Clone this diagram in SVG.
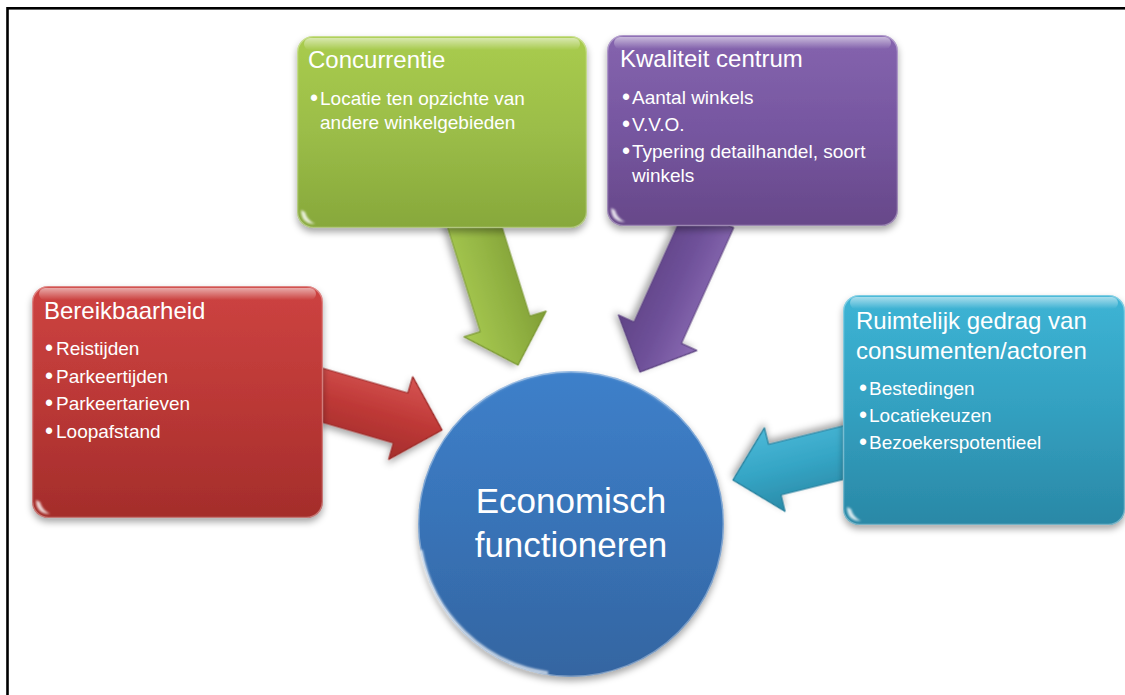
<svg xmlns="http://www.w3.org/2000/svg" width="1125" height="695" viewBox="0 0 1125 695">
  <style>
    .title { font-family: "Liberation Sans", Arial, sans-serif; font-size: 24px; fill: #ffffff; }
    .item { font-family: "Liberation Sans", Arial, sans-serif; font-size: 19px; fill: #ffffff; }
    .dot { font-family: "Liberation Sans", Arial, sans-serif; font-size: 23px; fill: #ffffff; }
    .core { font-family: "Liberation Sans", Arial, sans-serif; font-size: 35px; fill: #ffffff; text-anchor: middle; }
    .gloss { fill: url(#glossGrad); }
    .corner { fill: #ffffff; opacity: 0.8; filter: url(#soft); }
    .rim { fill: none; stroke: #ffffff; stroke-opacity: 0.35; stroke-width: 1.5; }
    .arrow { filter: url(#shadow); stroke-linejoin: round; stroke-width: 1.2; }
  </style>
  <defs>
    <filter id="shadow" x="-20%" y="-20%" width="140%" height="150%">
      <feDropShadow dx="0" dy="4" stdDeviation="3.5" flood-color="#000000" flood-opacity="0.35"/>
    </filter>
    <filter id="soft" x="-30%" y="-30%" width="160%" height="160%">
      <feGaussianBlur stdDeviation="1"/>
    </filter>
    <linearGradient id="glossGrad" x1="0" y1="0" x2="0" y2="1">
      <stop offset="0" stop-color="#ffffff" stop-opacity="0.55"/>
      <stop offset="1" stop-color="#ffffff" stop-opacity="0"/>
    </linearGradient>
    <linearGradient id="greenGrad" x1="0" y1="0" x2="0" y2="1">
      <stop offset="0" stop-color="#a9cc4e"/>
      <stop offset="0.5" stop-color="#9bbd48"/>
      <stop offset="1" stop-color="#87a83b"/>
    </linearGradient>
    <linearGradient id="purpleGrad" x1="0" y1="0" x2="0" y2="1">
      <stop offset="0" stop-color="#8564ae"/>
      <stop offset="0.5" stop-color="#7656a0"/>
      <stop offset="1" stop-color="#674889"/>
    </linearGradient>
    <linearGradient id="redGrad" x1="0" y1="0" x2="0" y2="1">
      <stop offset="0" stop-color="#cd4341"/>
      <stop offset="0.5" stop-color="#bb3836"/>
      <stop offset="1" stop-color="#a42d2b"/>
    </linearGradient>
    <linearGradient id="cyanGrad" x1="0" y1="0" x2="0" y2="1">
      <stop offset="0" stop-color="#3db4d5"/>
      <stop offset="0.5" stop-color="#33a0c0"/>
      <stop offset="1" stop-color="#2a88a6"/>
    </linearGradient>
    <linearGradient id="blueGrad" x1="0" y1="0" x2="0" y2="1">
      <stop offset="0" stop-color="#3e80ca"/>
      <stop offset="0.5" stop-color="#3873b7"/>
      <stop offset="1" stop-color="#3465a1"/>
    </linearGradient>
    <!-- arrow bodies: bevel shading across the shaft -->
    <linearGradient id="greenArrow" x1="0" y1="0" x2="0" y2="1">
      <stop offset="0" stop-color="#7f9d35"/>
      <stop offset="0.45" stop-color="#93b443"/>
      <stop offset="1" stop-color="#a9cb52"/>
    </linearGradient>
    <linearGradient id="purpleArrow" x1="0" y1="0" x2="0" y2="1">
      <stop offset="0" stop-color="#8c6cb4"/>
      <stop offset="0.5" stop-color="#6f519a"/>
      <stop offset="1" stop-color="#5f4385"/>
    </linearGradient>
    <linearGradient id="redArrow" x1="0" y1="0" x2="0" y2="1">
      <stop offset="0" stop-color="#d65553"/>
      <stop offset="0.5" stop-color="#bf3937"/>
      <stop offset="1" stop-color="#a42e2c"/>
    </linearGradient>
    <linearGradient id="cyanArrow" x1="0" y1="0" x2="0" y2="1">
      <stop offset="0" stop-color="#2a8aa7"/>
      <stop offset="0.5" stop-color="#35a5c5"/>
      <stop offset="1" stop-color="#4cb9d8"/>
    </linearGradient>
    <!-- block arrow pointing along +x, tip at the origin -->
    <path id="arrowShape" d="M -170,-26 L -43,-26 L -43,-43 L 0,0 L -43,43 L -43,26 L -170,26 Z"/>
    <!-- glossy spot for a bottom-left rounded corner, origin at the corner -->
    <path id="cornerSpot" d="M 4,-18 Q 4,-4 18,-4 Q 10,-8 8,-16 Z"/>
  </defs>

  <rect width="1125" height="695" fill="#ffffff"/>
  <!-- page frame -->
  <rect x="7.5" y="8.3" width="1140" height="720" fill="none" stroke="#000000" stroke-width="2.6"/>

  <g id="connectors">
    <use href="#arrowShape" class="arrow" fill="url(#greenArrow)" stroke="#7a9733" transform="translate(518,365) rotate(72.6)"/>
    <use href="#arrowShape" class="arrow" fill="url(#purpleArrow)" stroke="#5c4280" transform="translate(640,372) rotate(114.3)"/>
    <use href="#arrowShape" class="arrow" fill="url(#redArrow)" stroke="#9c2a28" transform="translate(442,430) rotate(16.2)"/>
    <use href="#arrowShape" class="arrow" fill="url(#cyanArrow)" stroke="#267f9b" transform="translate(733,480) rotate(166.1)"/>
  </g>

  <g id="concurrentie">
    <rect x="297" y="36" width="290" height="192" rx="16" fill="url(#greenGrad)" filter="url(#shadow)"/>
    <rect x="297.5" y="36.5" width="289" height="191" rx="16" class="rim"/>
    <rect x="304" y="38" width="276" height="12" rx="6" class="gloss"/>
    <use href="#cornerSpot" class="corner" transform="translate(297,228)"/>
    <text class="title" x="308" y="68">Concurrentie</text>
    <text class="dot" x="310" y="106">•</text>
    <text class="item" x="320" y="105">Locatie ten opzichte van</text>
    <text class="item" x="320" y="129">andere winkelgebieden</text>
  </g>

  <g id="kwaliteit-centrum">
    <rect x="607" y="35" width="291" height="191" rx="16" fill="url(#purpleGrad)" filter="url(#shadow)"/>
    <rect x="607.5" y="35.5" width="290" height="190" rx="16" class="rim"/>
    <rect x="614" y="37" width="277" height="12" rx="6" class="gloss"/>
    <use href="#cornerSpot" class="corner" transform="translate(607,226)"/>
    <text class="title" x="620" y="67">Kwaliteit centrum</text>
    <text class="dot" x="622" y="105">•</text>
    <text class="item" x="632" y="104">Aantal winkels</text>
    <text class="dot" x="622" y="132">•</text>
    <text class="item" x="632" y="131">V.V.O.</text>
    <text class="dot" x="622" y="159">•</text>
    <text class="item" x="632" y="158">Typering detailhandel, soort</text>
    <text class="item" x="632" y="182">winkels</text>
  </g>

  <g id="bereikbaarheid">
    <rect x="32" y="286" width="291" height="232" rx="16" fill="url(#redGrad)" filter="url(#shadow)"/>
    <rect x="32.5" y="286.5" width="290" height="231" rx="16" class="rim"/>
    <rect x="39" y="288" width="277" height="12" rx="6" class="gloss"/>
    <use href="#cornerSpot" class="corner" transform="translate(32,518)"/>
    <text class="title" x="44" y="319">Bereikbaarheid</text>
    <text class="dot" x="45" y="356">•</text>
    <text class="item" x="56" y="355">Reistijden</text>
    <text class="dot" x="45" y="384">•</text>
    <text class="item" x="56" y="383">Parkeertijden</text>
    <text class="dot" x="45" y="411">•</text>
    <text class="item" x="56" y="410">Parkeertarieven</text>
    <text class="dot" x="45" y="439">•</text>
    <text class="item" x="56" y="438">Loopafstand</text>
  </g>

  <g id="ruimtelijk-gedrag">
    <rect x="843" y="295" width="282" height="230" rx="16" fill="url(#cyanGrad)" filter="url(#shadow)"/>
    <rect x="843.5" y="295.5" width="281" height="229" rx="16" class="rim"/>
    <rect x="850" y="297" width="268" height="12" rx="6" class="gloss"/>
    <use href="#cornerSpot" class="corner" transform="translate(843,525)"/>
    <text class="title" x="856" y="329">Ruimtelijk gedrag van</text>
    <text class="title" x="856" y="359">consumenten/actoren</text>
    <text class="dot" x="859" y="396">•</text>
    <text class="item" x="869" y="395">Bestedingen</text>
    <text class="dot" x="859" y="423">•</text>
    <text class="item" x="869" y="422">Locatiekeuzen</text>
    <text class="dot" x="859" y="450">•</text>
    <text class="item" x="869" y="449">Bezoekerspotentieel</text>
  </g>

  <g id="economisch-functioneren">
    <circle cx="571" cy="524" r="153" fill="url(#blueGrad)" filter="url(#shadow)"/>
    <circle cx="571" cy="524" r="152.3" class="rim"/>
    <path d="M 470,410 A 150 150 0 0 1 672,410" fill="none" stroke="#ffffff" stroke-opacity="0.25" stroke-width="3" filter="url(#soft)"/>
    <path d="M 421,550 A 151 151 0 0 0 548,673" fill="none" stroke="#ffffff" stroke-opacity="0.75" stroke-width="3" filter="url(#soft)"/>
    <text class="core" x="571" y="513">Economisch</text>
    <text class="core" x="571" y="557">functioneren</text>
  </g>
</svg>
